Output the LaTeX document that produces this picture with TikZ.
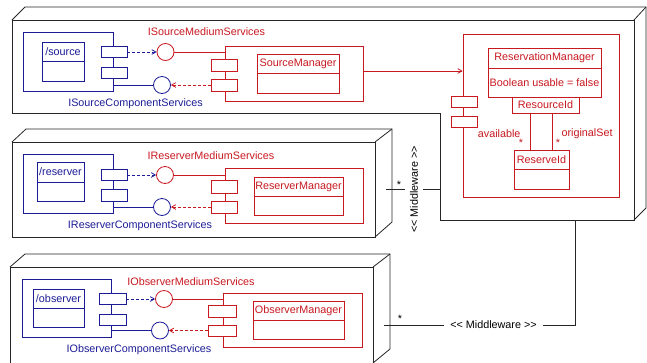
\documentclass[tikz,border=0pt]{standalone}
\usepackage{fontspec}
\newfontfamily\umlfont{Liberation Sans}
\usetikzlibrary{arrows,calc}
\definecolor{umlred}{RGB}{200,24,32}
\definecolor{umlblue}{RGB}{28,28,150}

\begin{document}
\begin{tikzpicture}[x=1pt,y=-1pt]
\tikzset{every node/.style = {font=\umlfont\fontsize{10.8pt}{13pt}\selectfont}}
\tikzset{sz/.style 2 args = {minimum width=#1pt,minimum height=#2pt}}
\tikzset{bbox/.style = {shape=rectangle,draw=umlblue,text=umlblue,fill=white,line width=0.8pt,inner sep=0pt}}
\tikzset{rbox/.style = {shape=rectangle,draw=umlred,text=umlred,fill=white,line width=0.8pt,inner sep=0pt}}
\tikzset{bcirc/.style = {shape=circle,draw=umlblue,line width=0.8pt,minimum size=17pt,inner sep=0pt}}
\tikzset{rcirc/.style = {shape=circle,draw=umlred,line width=0.8pt,minimum size=17pt,inner sep=0pt}}
\tikzset{bedge/.style = {draw=umlblue,line width=0.8pt}}
\tikzset{redge/.style = {draw=umlred,line width=0.8pt}}
\tikzset{dep/.style = {->,> = angle 60,dash pattern=on 3pt off 2pt}}
\tikzset{hw/.style = {draw=black!85,line width=0.8pt}}
\useasboundingbox (0,0) rectangle (647,362);

% hardware nodes
\draw[hw] (12,20) -- (634,20) -- (634,220) -- (440,220) -- (440,113) -- (12,113) -- cycle;
\draw[hw] (12,20) -- (25,7) -- (646,7) -- (646,208) -- (634,220);
\draw[hw] (634,20) -- (646,7);

\draw[hw] (12,142) rectangle (375,237);
\draw[hw] (12,142) -- (26,129) -- (392,129) -- (392,222) -- (375,237);
\draw[hw] (375,142) -- (392,129);

\draw[hw] (10,267) rectangle (373,364);
\draw[hw] (10,267) -- (25,254) -- (390,254) -- (390,349) -- (373,363);
\draw[hw] (373,267) -- (390,254);

% source
\node[bbox,sz={90}{59}] (srccomp) at (68,61.5) {};
\node[bbox,sz={42}{19}] (srccls) at (63,51.5) {/source};
\node[bbox,sz={42}{20}] (srcclsb) at (63,71) {};
\node[bbox,sz={26}{11}] (srcp1) at (114,52) {};
\node[bbox,sz={26}{11}] (srcp2) at (114,73) {};
\node[rcirc] (srcmed) at (165.5,52) {};
\node[bcirc] (srcci) at (162,85) {};
\node[text=umlred] (srcmedlab) at (206.5,32) {ISourceMediumServices};
\node[text=umlblue] (srccilab) at (135.5,104) {ISourceComponentServices};
\node[rbox,sz={138}{55}] (srcmgr) at (294,73.5) {};
\node[rbox,sz={82}{19}] (srcmgrcls) at (298,63.5) {SourceManager};
\node[rbox,sz={82}{20}] (srcmgrclsb) at (298,83) {};
\node[rbox,sz={26}{12}] (srcmp1) at (224,65) {};
\node[rbox,sz={26}{12}] (srcmp2) at (224,85) {};

% reserver
\node[bbox,sz={90}{59}] (rescomp) at (68,183.5) {};
\node[bbox,sz={47}{20}] (rescls) at (60.5,172) {/reserver};
\node[bbox,sz={47}{19}] (resclsb) at (60.5,191.5) {};
\node[bbox,sz={26}{11}] (resp1) at (114,175) {};
\node[bbox,sz={26}{12}] (resp2) at (114,195) {};
\node[rcirc] (resmed) at (165,175) {};
\node[bcirc] (resci) at (162,207) {};
\node[text=umlred] (resmedlab) at (211,156) {IReserverMediumServices};
\node[text=umlblue] (rescilab) at (140,226) {IReserverComponentServices};
\node[rbox,sz={138}{55}] (resmgr) at (294,195.5) {};
\node[rbox,sz={89}{19}] (resmgrcls) at (298.5,186.5) {ReserverManager};
\node[rbox,sz={89}{19}] (resmgrclsb) at (298.5,205.5) {};
\node[rbox,sz={26}{13}] (resmp1) at (224,186.5) {};
\node[rbox,sz={26}{12}] (resmp2) at (224,207) {};

% observer
\node[bbox,sz={89}{58}] (obscomp) at (66.5,308) {};
\node[bbox,sz={51}{19}] (obscls) at (58.5,298.5) {/observer};
\node[bbox,sz={51}{19}] (obsclsb) at (58.5,317.5) {};
\node[bbox,sz={27}{11}] (obsp1) at (112.5,299) {};
\node[bbox,sz={27}{11}] (obsp2) at (112.5,319.5) {};
\node[rcirc] (obsmed) at (164,299) {};
\node[bcirc] (obsci) at (160,330.5) {};
\node[text=umlred] (obsmedlab) at (191,282) {IObserverMediumServices};
\node[text=umlblue] (obscilab) at (139,350) {IObserverComponentServices};
\node[rbox,sz={139}{54}] (obsmgr) at (292.5,320) {};
\node[rbox,sz={91}{19}] (obsmgrcls) at (298.5,310.5) {ObserverManager};
\node[rbox,sz={91}{19}] (obsmgrclsb) at (298.5,329.5) {};
\node[rbox,sz={28}{12}] (obsmp1) at (222,311) {};
\node[rbox,sz={28}{11}] (obsmp2) at (222,330.5) {};

% reservation
\node[rbox,sz={156}{163}] (resv) at (541,115.5) {};
\node[rbox,sz={26}{11}] (resvp1) at (464,101.5) {};
\node[rbox,sz={26}{11}] (resvp2) at (464,121.5) {};
\node[rbox,sz={113}{20}] (resvmgr) at (544.5,58) {ReservationManager};
\node[rbox,sz={113}{29}] (resvmgrb) at (544.5,82.5) {Boolean usable = false};
\node[rbox,sz={67}{16}] (rsrcid) at (545.5,105) {ResourceId};
\node[rbox,sz={55}{19}] (rsvid) at (541.5,159.5) {ReserveId};
\node[rbox,sz={55}{20}] (rsvidb) at (541.5,179) {};
\node[text=umlred,anchor=east] (avail) at (524,134) {available};
\node[text=umlred] (availst) at (521,143) {*};
\node[text=umlred,anchor=west] (origset) at (558,134) {originalSet};
\node[text=umlred] (origsetst) at (558,143) {*};

% middleware
\coordinate (mw1a) at (386,189.5);
\coordinate (mw1b) at (440,189.5);
\node[rotate=90,inner sep=5pt] (mw1) at (414,189.5) {<< Middleware >>};
\node (mw1st) at (399,185) {*};
\coordinate (mw2a) at (384,325);
\coordinate (mw2b) at (575,220);
\node[inner sep=6pt] (mw2) at (493.5,325) {<< Middleware >>};
\node (mw2st) at (400,319) {*};

%edges
\draw[bedge,dep] (srcp1) -- (srcmed);
\draw[redge] (srcmed) -- (srcmed -| srcmgr.west);
\draw[redge,dep] (srcmp2) -- (srcci);
\draw[bedge] (srcci) -- (srcci -| srccomp.east);

\draw[bedge,dep] (resp1) -- (resmed);
\draw[redge] (resmed) -- (resmed -| resmgr.west);
\draw[redge,dep] (resmp2) -- (resci);
\draw[bedge] (resci) -- (resci -| rescomp.east);

\draw[bedge,dep] (obsp1) -- (obsmed);
\draw[redge] (obsmed) -- (obsmed -| obsmgr.west);
\draw[redge,dep] (obsmp2) -- (obsci);
\draw[bedge] (obsci) -- (obsci -| obscomp.east);

\draw[redge,->,> = angle 60] ([yshift=2.5pt]srcmgr.east) -- ([yshift=2.5pt]srcmgr.east -| resv.west);
\draw[redge] ([xshift=-15.5pt]rsrcid.south) -- ([xshift=-11.5pt]rsvid.north);
\draw[redge] ([xshift=6.5pt]rsrcid.south) -- ([xshift=10.5pt]rsvid.north);

\draw[hw] (mw1a) -- (mw1) -- (mw1b);
\draw[hw] (mw2a) -- (mw2) -- (mw2 -| mw2b) -- (mw2b);
\end{tikzpicture}
\end{document}
